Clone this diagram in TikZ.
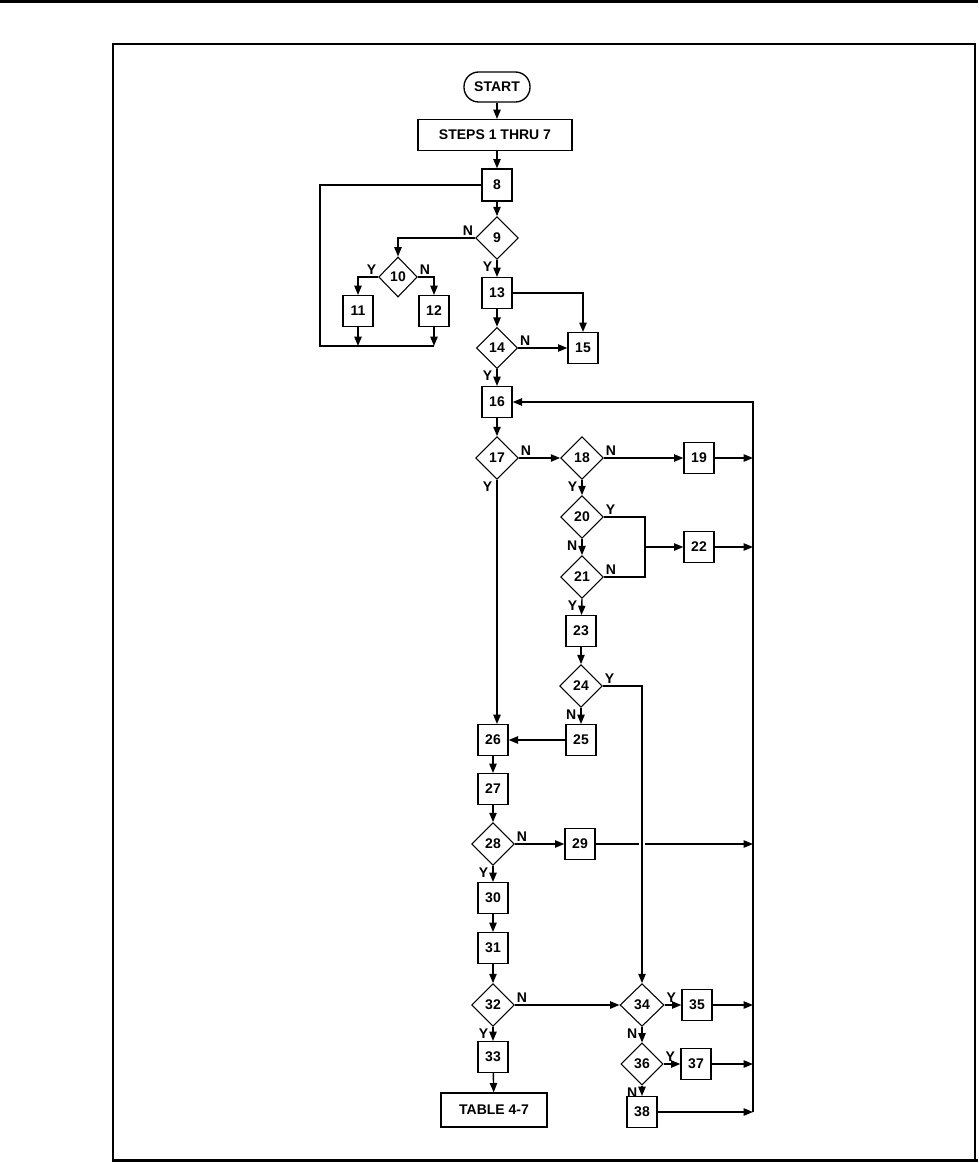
\documentclass[tikz,border=0pt]{standalone}
\usepackage{fontspec}
\setmainfont{Liberation Sans}
\usetikzlibrary{shapes.geometric,arrows.meta}
\begin{document}
\begin{tikzpicture}[x=0.75pt, y=-0.75pt,
  every node/.style={font=\bfseries\fontsize{10.5}{12}\selectfont},
  box/.style={draw, line width=1pt, minimum width=22.5pt, minimum height=23pt, inner sep=0pt},
  decision/.style={draw, diamond, line width=0.8pt, minimum width=32pt, minimum height=32pt, inner sep=0pt},
  yn/.style={inner sep=1pt},
  flow/.style={->, line width=1.05pt},
  >={Triangle[length=7pt,width=5.5pt]}]
  \useasboundingbox (0,0) rectangle (978,1163);

  % page frame
  \draw[line width=2.25pt] (0,2) -- (978,2);
  \draw[line width=1.1pt] (113,1160) -- (113,44) -- (975,44) -- (975,1160);
  \draw[line width=2.25pt] (112,1160) -- (978,1160);

  \node[draw, rounded corners=11pt, line width=1pt, minimum width=49.5pt, minimum height=22.5pt] (start) at (497,87) {START};
  \node[box, minimum width=115.5pt] (steps) at (495,135) {STEPS 1 THRU 7};
  \node[box, minimum height=24pt] (b8) at (497,185) {8};
  \node[decision] (d9) at (497,238) {9};
  \node[decision, minimum width=29pt, minimum height=30pt] (d10) at (398,277) {10};
  \node[box] (b11) at (358,311) {11};
  \node[box] (b12) at (434,311) {12};
  \node[box] (b13) at (497,293) {13};
  \node[decision, minimum width=31pt, minimum height=31pt] (d14) at (497,348) {14};
  \node[box] (b15) at (583,348) {15};
  \node[box] (b16) at (497,402) {16};
  \node[decision] (d17) at (497,458) {17};
  \node[decision] (d18) at (582,458) {18};
  \node[box] (b19) at (699,458) {19};
  \node[decision] (d20) at (582,517) {20};
  \node[decision] (d21) at (582,577) {21};
  \node[box] (b22) at (699,547) {22};
  \node[box] (b23) at (581,631) {23};
  \node[decision] (d24) at (581,686) {24};
  \node[box] (b25) at (581,740) {25};
  \node[box] (b26) at (493,740) {26};
  \node[box] (b27) at (493,789) {27};
  \node[decision] (d28) at (493,844) {28};
  \node[box] (b29) at (580,844) {29};
  \node[box] (b30) at (493,898) {30};
  \node[box] (b31) at (493,948) {31};
  \node[decision] (d32) at (493,1005) {32};
  \node[box] (b33) at (493,1057) {33};
  \node[box, minimum width=79.5pt, minimum height=25.5pt] (table) at (494,1110) {TABLE 4-7};
  \node[decision, minimum width=33pt, minimum height=32pt] (d34) at (642,1005) {34};
  \node[box] (b35) at (697,1005) {35};
  \node[decision, minimum width=31.5pt, minimum height=31.5pt] (d36) at (642,1064) {36};
  \node[box] (b37) at (696,1064) {37};
  \node[box] (b38) at (642,1112) {38};

  \coordinate (loopL) at (320,346);
  \coordinate (busT) at (753,402);
  \coordinate (busB) at (753,1112);
  \coordinate (merge) at (645,547);

  \draw[flow] (start.south) -- (start.south |- steps.north);
  \draw[flow] (steps.south -| b8.north) -- (b8.north);
  \draw[line width=1.05pt] (b8.west) -- (b8.west -| loopL) -- (loopL) -- (loopL -| b12);
  \draw[flow] (b11) -- (b11 |- loopL);
  \draw[flow] (b12) -- (b12 |- loopL);
  \draw[flow] (b8) -- (d9);
  \draw[flow] (d9.west) node[yn, above left] (l9n) {N} -| (d10.north);
  \draw[flow] (d10.west) node[yn, above left] (l10y) {Y} -| (b11.north);
  \draw[flow] (d10.east) node[yn, above right] (l10n) {N} -| (b12.north);
  \draw[flow] (d9.south) node[yn, below left, xshift=-2pt] (l9y) {Y} -- (b13);
  \draw[flow] (b13.east) -| (b15.north);
  \draw[flow] (b13) -- (d14);
  \draw[flow] (d14.east) node[yn, above right] (l14n) {N} -- (b15.west);
  \draw[flow] (d14.south) node[yn, below left, xshift=-2pt] (l14y) {Y} -- (b16);

  % return bus
  \draw[flow] (busB) -- (busT) -- (b16.east);
  \draw[flow] (b16) -- (d17);
  \draw[flow] (d17.east) node[yn, above right] (l17n) {N} -- (d18.west);
  \draw[flow] (d18.east) node[yn, above right] (l18n) {N} -- (b19.west);
  \draw[flow] (b19.east) -- (b19.east -| busT);
  \draw[flow] (d18.south) node[yn, below left, xshift=-2pt] (l18y) {Y} -- (d20);
  \draw[flow] (d20.south) node[yn, below left, xshift=-2pt] (l20n) {N} -- (d21);
  \draw[line width=1.05pt] (d20.east) node[yn, above right] (l20y) {Y} -| (merge);
  \draw[line width=1.05pt] (d21.east) node[yn, above right] (l21n) {N} -| (merge);
  \draw[flow] (merge) -- (b22.west);
  \draw[flow] (b22.east) -- (b22.east -| busT);
  \draw[flow] (d21.south) node[yn, below left, xshift=-2pt] (l21y) {Y} -- (b23);
  \draw[flow] (b23) -- (d24);
  \draw[flow] (d24.south) node[yn, below left, xshift=-2pt] (l24n) {N} -- (b25);
  \draw[flow] (b25) -- (b26);
  \draw[flow] (d17.south) node[yn, below left, xshift=-2pt] (l17y) {Y} -- (d17.south |- b26.north);
  \draw[flow] (b26) -- (b27);
  \draw[flow] (b27) -- (d28);
  \draw[flow] (d28.east) node[yn, above right] (l28n) {N} -- (b29.west);
  \draw[flow] (b29.east) -- (b29.east -| busT);
  \coordinate (hop) at (b29.east -| d34.north);
  \draw[white, line width=3pt] ([xshift=-2.5pt]hop) -- ([xshift=2.5pt]hop);
  \draw[flow] (d24.east) node[yn, above right] (l24y) {Y} -| (d34.north);
  \draw[flow] (d28.south) node[yn, below left, xshift=-2pt] (l28y) {Y} -- (b30);
  \draw[flow] (b30) -- (b31);
  \draw[flow] (b31) -- (d32);
  \draw[flow] (d32.south) node[yn, below left, xshift=-2pt] (l32y) {Y} -- (b33);
  \draw[flow] (b33) -- (table);
  \draw[flow] (d32.east) node[yn, above right] (l32n) {N} -- (d34.west);
  \draw[flow] (d34.east) node[yn, above right] (l34y) {Y} -- (b35.west);
  \draw[flow] (b35.east) -- (b35.east -| busT);
  \draw[flow] (d34.south) node[yn, below left, xshift=-2pt] (l34n) {N} -- (d36);
  \draw[flow] (d36.east) node[yn, above right] (l36y) {Y} -- (b37.west);
  \draw[flow] (b37.east) -- (b37.east -| busT);
  \draw[flow] (d36.south) node[yn, below left, xshift=-2pt] (l36n) {N} -- (b38);
  \draw[flow] (b38.east) -- (busB);
\end{tikzpicture}
\end{document}
